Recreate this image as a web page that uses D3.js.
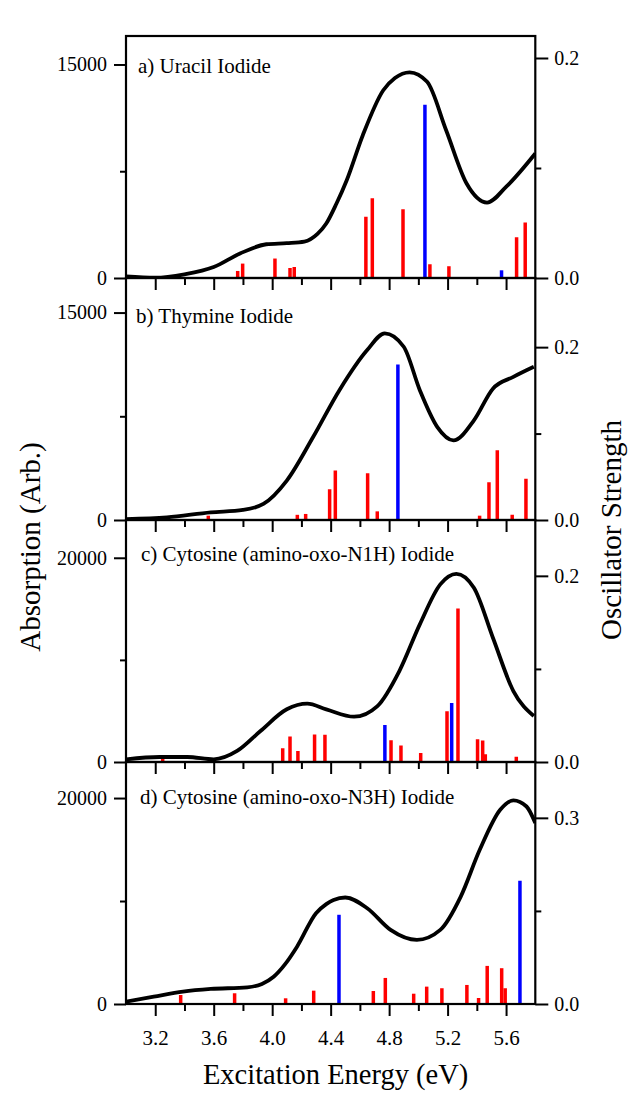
<!DOCTYPE html>
<html>
<head>
<meta charset="utf-8">
<script src="https://cdn.jsdelivr.net/npm/d3@7"></script>
<style>
  body { margin: 0; background: #fff; }
  text { font-family: "Liberation Serif", "Times New Roman", serif; fill: #000; }
</style>
</head>
<body>
<div id="chart"></div>
<script>
// panel titles and axis ranges
const panelTitles = [
  'a) Uracil Iodide',
  'b) Thymine Iodide',
  'c) Cytosine (amino-oxo-N1H) Iodide',
  'd) Cytosine (amino-oxo-N3H) Iodide'
];
const absMax = [17000, 17500, 23700, 23500];
const absMajor = [[0, 15000], [0, 15000], [0, 20000], [0, 20000]];
const absMinor = [[7500], [7500], [10000], [10000]];
const oscMax = [0.22, 0.28, 0.26, 0.39];
const oscMajor = [[0, 0.2], [0, 0.2], [0, 0.2], [0, 0.3]];
const oscMinor = [[0.1], [0.1], [0.1], [0.15]];
const energyMajor = [3.2, 3.6, 4.0, 4.4, 4.8, 5.2, 5.6];
const energyMinor = [3.4, 3.8, 4.2, 4.6, 5.0, 5.4];

// broadened spectra [energy eV, absorption]
const spectrumA = [[3.0,120],[3.2,20],[3.4,260],[3.6,770],[3.78,1720],[3.96,2370],[4.1,2450],[4.22,2560],
  [4.31,3100],[4.37,3825],[4.44,5230],[4.51,6870],[4.62,10030],[4.76,13190],[4.84,14050],[4.94,14450],
  [5.06,13780],[5.19,10380],[5.33,6635],[5.47,5300],[5.6,6400],[5.8,8745]];
const spectrumB = [[3.0,70],[3.28,190],[3.58,550],[3.8,725],[3.94,1160],[4.1,2850],[4.28,6000],[4.46,9390],
  [4.65,12290],[4.77,13500],[4.9,12530],[5.01,9390],[5.13,6720],[5.24,5760],[5.38,7210],[5.51,9500],
  [5.65,10350],[5.79,11080]];
const spectrumC = [[3.0,260],[3.23,490],[3.42,490],[3.6,260],[3.76,1080],[3.92,3035],[4.1,5160],[4.24,5710],
  [4.37,5160],[4.56,4435],[4.72,5480],[4.87,8910],[5.01,13480],[5.15,17400],[5.26,18430],[5.38,17060],
  [5.51,12170],[5.65,6950],[5.79,4500]];
const spectrumD = [[3.0,225],[3.19,710],[3.39,1200],[3.58,1460],[3.83,1620],[3.93,1950],[4.01,2650],[4.09,3900],
  [4.17,5570],[4.3,8820],[4.37,9700],[4.42,10110],[4.5,10340],[4.65,9300],[4.81,7195],[4.99,6220],
  [5.15,7195],[5.29,10430],[5.42,14970],[5.56,18860],[5.65,19770],[5.74,19180],[5.8,17570]];

// oscillator strengths [energy eV, f]
const redA = [[3.764,0.0064],[3.798,0.0131],[4.019,0.0177],[4.122,0.0091],[4.151,0.010],[4.641,0.0556],
  [4.685,0.0724],[4.895,0.0626],[5.079,0.0125],[5.209,0.0107],[5.672,0.0371],[5.731,0.0505]];
const blueA = [[5.045,0.1574],[5.569,0.007]];
const redB = [[3.563,0.005],[4.172,0.006],[4.229,0.007],[4.393,0.0356],[4.432,0.0573],[4.653,0.0542],
  [4.719,0.010],[5.419,0.005],[5.483,0.0437],[5.54,0.0806],[5.642,0.006],[5.736,0.0477]];
const blueB = [[4.86,0.180]];
const redC = [[3.251,0.0065],[4.072,0.0148],[4.122,0.0273],[4.176,0.0119],[4.29,0.0295],[4.361,0.0292],
  [4.813,0.0235],[4.881,0.0177],[5.016,0.0097],[5.196,0.0544],[5.271,0.165],[5.405,0.0245],
  [5.44,0.023],[5.458,0.0083],[5.67,0.0057]];
const blueC = [[4.771,0.0397],[5.228,0.0635]];
const redD = [[3.374,0.0145],[3.743,0.0173],[4.092,0.0092],[4.284,0.0215],[4.692,0.021],[4.774,0.042],
  [4.968,0.0166],[5.057,0.028],[5.161,0.0254],[5.332,0.0307],[5.412,0.0097],[5.471,0.0614],
  [5.57,0.0577],[5.594,0.0254]];
const blueD = [[4.457,0.1438],[5.695,0.1987]];

const spectra = [spectrumA, spectrumB, spectrumC, spectrumD];
const reds = [redA, redB, redC, redD];
const blues = [blueA, blueB, blueC, blueD];

// layout
const width = 635, height = 1095;
const left = 126, right = 535.3;
const top0 = 36, panelH = 242;
const titleOffsets = [[12, 37], [10, 45], [15, 41], [14, 42]];

const svg = d3.select('#chart').append('svg')
  .attr('width', width)
  .attr('height', height);

const x = d3.scaleLinear().domain([3.0, 5.8]).range([left, right]);

svg.append('defs').selectAll('clipPath')
  .data(d3.range(4))
  .enter().append('clipPath')
  .attr('id', i => 'clip' + i)
  .append('rect')
  .attr('x', left).attr('y', i => top0 + i * panelH)
  .attr('width', right - left).attr('height', panelH);

function styleAxis(g) {
  g.select('.domain').remove();
  g.selectAll('line').attr('stroke', '#000').attr('stroke-width', 2);
}

for (let i = 0; i < 4; i++) {
  const pTop = top0 + i * panelH;
  const pBot = pTop + panelH;
  const yA = d3.scaleLinear().domain([0, absMax[i]]).range([pBot, pTop]);
  const yF = d3.scaleLinear().domain([0, oscMax[i]]).range([pBot, pTop]);
  const panel = svg.append('g');

  // sticks
  const sticks = panel.append('g').attr('clip-path', `url(#clip${i})`);
  sticks.selectAll('.red')
    .data(reds[i])
    .enter().append('line')
    .attr('x1', d => x(d[0])).attr('x2', d => x(d[0]))
    .attr('y1', yF(0)).attr('y2', d => yF(d[1]))
    .attr('stroke', '#ff0000').attr('stroke-width', 3.5);
  sticks.selectAll('.blue')
    .data(blues[i])
    .enter().append('line')
    .attr('x1', d => x(d[0])).attr('x2', d => x(d[0]))
    .attr('y1', yF(0)).attr('y2', d => yF(d[1]))
    .attr('stroke', '#0000ff').attr('stroke-width', 3.5);

  // spectrum
  const line = d3.line()
    .x(d => x(d[0]))
    .y(d => yA(d[1]))
    .curve(d3.curveMonotoneX);
  panel.append('path')
    .datum(spectra[i])
    .attr('clip-path', `url(#clip${i})`)
    .attr('d', line)
    .attr('fill', 'none')
    .attr('stroke', '#000')
    .attr('stroke-width', 3.8)
    .attr('stroke-linejoin', 'round');

  // left axis
  panel.append('g')
    .attr('transform', `translate(${left},0)`)
    .call(d3.axisLeft(yA).tickValues(absMajor[i]).tickSize(12).tickPadding(7).tickFormat(d3.format('d')))
    .call(styleAxis)
    .selectAll('text').attr('font-size', 20);
  panel.append('g')
    .attr('transform', `translate(${left},0)`)
    .call(d3.axisLeft(yA).tickValues(absMinor[i]).tickSize(6).tickFormat(''))
    .call(styleAxis);

  // right axis
  panel.append('g')
    .attr('transform', `translate(${right},0)`)
    .call(d3.axisRight(yF).tickValues(oscMajor[i]).tickSize(13).tickPadding(6).tickFormat(d3.format('.1f')))
    .call(styleAxis)
    .selectAll('text').attr('font-size', 20);
  panel.append('g')
    .attr('transform', `translate(${right},0)`)
    .call(d3.axisRight(yF).tickValues(oscMinor[i]).tickSize(6).tickFormat(''))
    .call(styleAxis);

  // bottom axis
  panel.append('g')
    .attr('transform', `translate(0,${pBot})`)
    .call(d3.axisBottom(x).tickValues(energyMajor).tickSize(12).tickPadding(14)
      .tickFormat(i === 3 ? d3.format('.1f') : ''))
    .call(styleAxis)
    .selectAll('text').attr('font-size', 21);
  panel.append('g')
    .attr('transform', `translate(0,${pBot})`)
    .call(d3.axisBottom(x).tickValues(energyMinor).tickSize(7).tickFormat(''))
    .call(styleAxis);

  // frame
  panel.append('rect')
    .attr('x', left).attr('y', pTop)
    .attr('width', right - left).attr('height', panelH)
    .attr('fill', 'none')
    .attr('stroke', '#000')
    .attr('stroke-width', 2.2);

  // title
  panel.append('text')
    .attr('x', left + titleOffsets[i][0])
    .attr('y', pTop + titleOffsets[i][1])
    .attr('font-size', 21)
    .text(panelTitles[i]);
}

// axis titles
svg.append('text')
  .attr('x', (left + right) / 2 + 5)
  .attr('y', 1084)
  .attr('text-anchor', 'middle')
  .attr('font-size', 28.5)
  .text('Excitation Energy (eV)');

svg.append('text')
  .attr('transform', 'translate(40,547) rotate(-90)')
  .attr('text-anchor', 'middle')
  .attr('font-size', 29)
  .text('Absorption (Arb.)');

svg.append('text')
  .attr('transform', 'translate(621,530) rotate(-90)')
  .attr('text-anchor', 'middle')
  .attr('font-size', 29)
  .text('Oscillator Strength');
</script>
</body>
</html>
